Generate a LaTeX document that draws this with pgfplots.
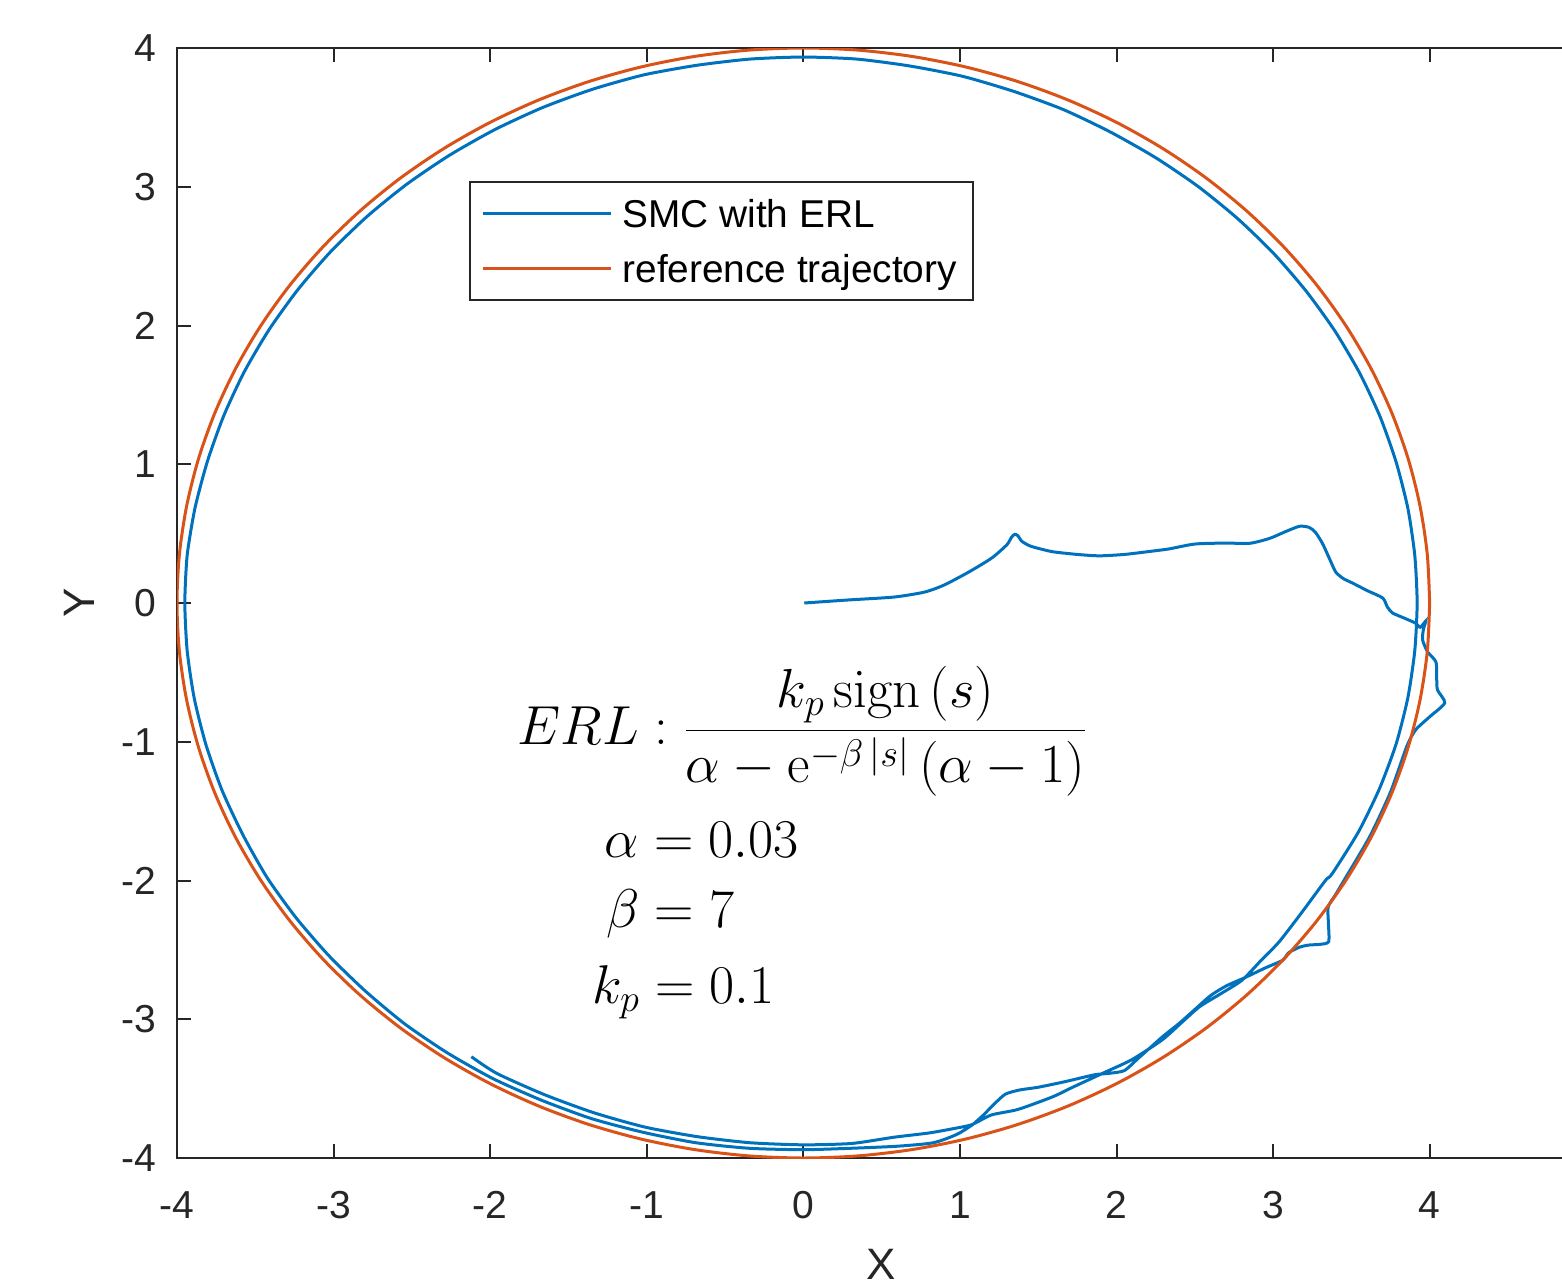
\documentclass[border=0pt]{standalone}
\usepackage{fix-cm}
\usepackage[no-math]{fontspec}
\setmainfont{Liberation Sans}
\usepackage{pgfplots}
\pgfplotsset{compat=1.18}
\definecolor{mblue}{rgb}{0,0.447,0.741}
\definecolor{mred}{rgb}{0.85,0.325,0.098}
\definecolor{axcol}{rgb}{0.15,0.15,0.15}
\begin{document}
\begin{tikzpicture}
\useasboundingbox (-88.5pt,-64pt) rectangle (692.5pt,579pt);
\clip (-88.5pt,-64pt) rectangle (692.5pt,579pt);
\begin{axis}[
  scale only axis, width=704.625pt, height=555pt,
  xmin=-4, xmax=5, ymin=-4, ymax=4,
  xtick={-4,-3,-2,-1,0,1,2,3,4,5}, xticklabels={-4,-3,-2,-1,0,1,2,3,4,{}},
  ytick={-4,-3,-2,-1,0,1,2,3,4}, yticklabels={-4,-3,-2,-1,0,1,2,3,4},
  tick align=inside, major tick length=7pt,
  axis line style={line width=1pt, color=axcol},
  every tick/.style={line width=1pt, color=axcol},
  tick label style={font=\fontsize{19.5}{23}\selectfont, text=axcol, inner sep=0pt},
  xticklabel style={anchor=base, yshift=-30pt},
  yticklabel style={anchor=east, xshift=-10pt},
  xlabel={X}, ylabel={Y},
  label style={font=\fontsize{22}{26}\selectfont, text=axcol, inner sep=0pt},
  xlabel style={at={(axis description cs:0.5,-0.096)}, anchor=center},
  ylabel style={at={(axis description cs:-0.069,0.5)}, anchor=center},
  legend style={
    at={(axis cs:-2.138,3.041)}, anchor=north west,
    draw=axcol, line width=1pt, fill=white,
    font=\fontsize{19.4}{23}\selectfont,
    inner xsep=6pt, inner ysep=6.95pt,
    row sep=9.9pt,
    nodes={inner sep=2pt, text height=13.6pt, text depth=0pt},
    /tikz/every odd column/.append style={column sep=3pt},
  },
  legend cell align=left,
  legend image code/.code={\draw[#1] (0pt,0pt) -- (64pt,0pt);},
]
\addplot[mblue, line width=1.5pt, smooth, tension=0.4] table {
0.006 0.000
0.288 0.022
0.58 0.043
0.775 0.079
0.90 0.13
1.056 0.223
1.203 0.324
1.30 0.42
1.33 0.475
1.35 0.495
1.37 0.485
1.395 0.445
1.44 0.415
1.48 0.40
1.59 0.37
1.75 0.35
1.89 0.34
2.05 0.35
2.2 0.37
2.336 0.39
2.50 0.425
2.70 0.432
2.85 0.43
2.976 0.465
3.07 0.51
3.168 0.553
3.23 0.545
3.27 0.51
3.315 0.43
3.36 0.32
3.40 0.223
3.45 0.175
3.507 0.144
3.60 0.09
3.70 0.036
3.73 -0.029
3.763 -0.072
3.84 -0.11
3.91 -0.145
3.94 -0.175
3.975 -0.13
3.96 -0.19
3.955 -0.267
3.987 -0.353
4.04 -0.425
4.045 -0.55
4.05 -0.627
4.096 -0.72
4.00 -0.82
3.91 -0.915
3.854 -1.033
3.749 -1.365
3.616 -1.686
3.455 -1.995
3.40 -2.10
3.352 -2.19
3.353 -2.30
3.355 -2.44
3.30 -2.46
3.23 -2.465
3.17 -2.48
3.10 -2.52
3.06 -2.575
2.95 -2.63
2.82 -2.70
2.70 -2.76
2.60 -2.83
2.50 -2.93
2.40 -3.03
2.30 -3.12
2.22 -3.20
2.14 -3.28
2.05 -3.37
1.95 -3.39
1.86 -3.40
1.67 -3.45
1.50 -3.49
1.38 -3.51
1.29 -3.54
1.22 -3.61
1.15 -3.69
1.08 -3.76
0.98 -3.83
0.83 -3.89
0.6 -3.915
0.3 -3.93
0 -3.94
-0.344 -3.930
-0.686 -3.890
-1.022 -3.815
-1.353 -3.716
-1.671 -3.584
-1.98 -3.429
-2.271 -3.244
-2.545 -3.034
-2.797 -2.797
-3.030 -2.542
-3.240 -2.268
-3.425 -1.978
-3.580 -1.669
-3.712 -1.351
-3.815 -1.022
-3.890 -0.686
-3.935 -0.344
-3.95 0
-3.935 0.344
-3.885 0.685
-3.806 1.020
-3.702 1.348
-3.571 1.665
-3.412 1.970
-3.227 2.260
-3.018 2.533
-2.786 2.786
-2.533 3.018
-2.260 3.227
-1.970 3.412
-1.665 3.571
-1.348 3.702
-1.020 3.806
-0.683 3.875
-0.343 3.920
0 3.935
0.343 3.920
0.682 3.870
1.017 3.796
1.342 3.688
1.659 3.557
1.96 3.395
2.248 3.211
2.520 3.003
2.772 2.772
3.003 2.520
3.211 2.248
3.395 1.96
3.553 1.657
3.684 1.341
3.786 1.015
3.861 0.681
3.905 0.342
3.92 0
3.905 -0.342
3.861 -0.681
3.786 -1.015
3.679 -1.339
3.544 -1.652
3.378 -1.95
3.334 -2.0
3.19 -2.22
3.04 -2.44
2.92 -2.58
2.80 -2.72
2.66 -2.82
2.53 -2.91
2.41 -3.03
2.29 -3.15
2.10 -3.29
1.93 -3.38
1.72 -3.49
1.59 -3.56
1.37 -3.65
1.20 -3.69
1.075 -3.76
0.95 -3.79
0.8 -3.82
0.58 -3.85
0.31 -3.895
0 -3.905
-0.340 -3.890
-0.678 -3.846
-1.012 -3.777
-1.337 -3.674
-1.652 -3.544
-1.958 -3.390
-2.12 -3.27
};
\addlegendentry{SMC with ERL}
\addplot[mred, line width=1.5pt, smooth] table {
4 0
3.9848 0.3486
3.9392 0.6946
3.8637 1.0353
3.7588 1.3681
3.6252 1.6905
3.4641 2.0000
3.2766 2.2943
3.0642 2.5712
2.8284 2.8284
2.5712 3.0642
2.2943 3.2766
2.0000 3.4641
1.6905 3.6252
1.3681 3.7588
1.0353 3.8637
0.6946 3.9392
0.3486 3.9848
0 4
-0.3486 3.9848
-0.6946 3.9392
-1.0353 3.8637
-1.3681 3.7588
-1.6905 3.6252
-2.0000 3.4641
-2.2943 3.2766
-2.5712 3.0642
-2.8284 2.8284
-3.0642 2.5712
-3.2766 2.2943
-3.4641 2.0000
-3.6252 1.6905
-3.7588 1.3681
-3.8637 1.0353
-3.9392 0.6946
-3.9848 0.3486
-4 0
-3.9848 -0.3486
-3.9392 -0.6946
-3.8637 -1.0353
-3.7588 -1.3681
-3.6252 -1.6905
-3.4641 -2.0000
-3.2766 -2.2943
-3.0642 -2.5712
-2.8284 -2.8284
-2.5712 -3.0642
-2.2943 -3.2766
-2.0000 -3.4641
-1.6905 -3.6252
-1.3681 -3.7588
-1.0353 -3.8637
-0.6946 -3.9392
-0.3486 -3.9848
0 -4
0.3486 -3.9848
0.6946 -3.9392
1.0353 -3.8637
1.3681 -3.7588
1.6905 -3.6252
2.0000 -3.4641
2.2943 -3.2766
2.5712 -3.0642
2.8284 -2.8284
3.0642 -2.5712
3.2766 -2.2943
3.4641 -2.0000
3.6252 -1.6905
3.7588 -1.3681
3.8637 -1.0353
3.9392 -0.6946
3.9848 -0.3486
4 0
};
\addlegendentry{reference trajectory}
\node[anchor=base west, inner sep=0pt, font=\fontsize{27.5}{32}\selectfont] at (axis cs:-1.825,-1.02)
  {$\displaystyle ERL:\frac{k_p\,\mathrm{sign}\left(s\right)}{\alpha-\mathrm{e}^{-\beta\,|s|}\left(\alpha-1\right)}$};
\node[anchor=base west, inner sep=0pt, font=\fontsize{27.3}{32}\selectfont] at (axis cs:-1.27,-1.831) {$\alpha=0.03$};
\node[anchor=base west, inner sep=0pt, font=\fontsize{27.3}{32}\selectfont] at (axis cs:-1.26,-2.342) {$\beta=7$};
\node[anchor=base west, inner sep=0pt, font=\fontsize{27.3}{32}\selectfont] at (axis cs:-1.35,-2.883) {$k_p=0.1$};
\end{axis}
\end{tikzpicture}
\end{document}
